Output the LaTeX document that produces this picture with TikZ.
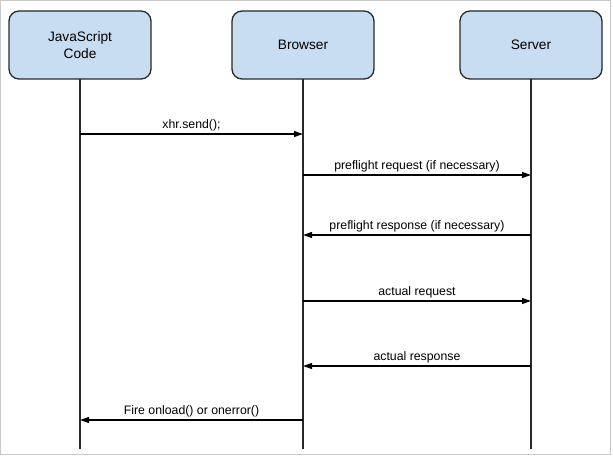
\documentclass[tikz,border=0pt]{standalone}
\usepackage{fontspec}
\setmainfont{Liberation Sans}
\usetikzlibrary{arrows.meta}

\definecolor{boxfill}{RGB}{200,221,241}
\definecolor{boxline}{RGB}{40,40,40}
\definecolor{framegray}{RGB}{200,200,200}

\tikzset{
	actor/.style={draw=boxline,line width=1.3pt,fill=boxfill,rounded corners=10pt,
		minimum width=142pt,minimum height=68pt,align=center,
		font=\fontsize{13.7}{16.5}\selectfont},
	life/.style={draw=boxline,line width=1.6pt},
	msg/.style={line width=1.2pt,-{Triangle[length=9pt,width=6pt]}},
	lbl/.style={font=\fontsize{12.3}{14}\selectfont,inner sep=2pt}
}

\begin{document}
\begin{tikzpicture}[x=1pt,y=-1pt]
	\useasboundingbox (0,0) rectangle (613,457);
	\draw[framegray,line width=1pt] (0.5,1) rectangle (610,454);

	\coordinate (jsend) at (80,449);
	\coordinate (browserend) at (303,449);
	\coordinate (serverend) at (531,449);

\draw[life] (jsend) -- (80,79);
\draw[life] (browserend) -- (303,79);
\draw[life] (serverend) -- (531,79);

	\node[actor] (js) at (80,45) {JavaScript\\Code};
	\node[actor] (browser) at (303,45) {Browser};
	\node[actor] (server) at (531,45) {Server};

	\draw[msg] (js |- 0,134) -- (browser |- 0,134) node[lbl,pos=0.5,above]{xhr.send();};
	\draw[msg] (browser |- 0,175) -- (server |- 0,175) node[lbl,pos=0.5,above]{preflight request (if necessary)};
	\draw[msg] (server |- 0,235) -- (browser |- 0,235) node[lbl,pos=0.5,above]{preflight response (if necessary)};
	\draw[msg] (browser |- 0,301) -- (server |- 0,301) node[lbl,pos=0.5,above]{actual request};
	\draw[msg] (server |- 0,366) -- (browser |- 0,366) node[lbl,pos=0.5,above]{actual response};
	\draw[msg] (browser |- 0,420) -- (js |- 0,420) node[lbl,pos=0.5,above]{Fire onload() or onerror()};
\end{tikzpicture}
\end{document}
